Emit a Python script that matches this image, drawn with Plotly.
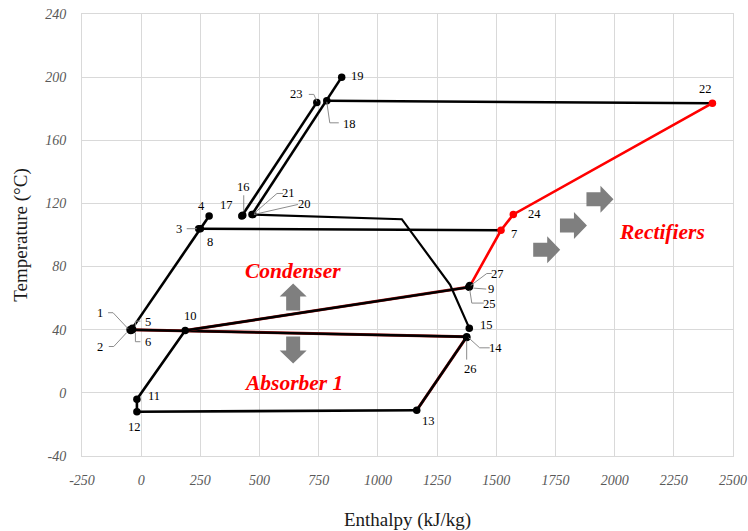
import plotly.graph_objects as go

# ---------------- data ----------------
labels = [str(i) for i in range(1, 28)]
enthalpy = [-47, -44, 243, 287, -37, -37, 1520, 250, 1386, 186, -18, -18, 1164, 1375,
            1386, 429, 425, 784, 847, 472, 468, 2413, 742, 1572, 1384, 1375, 1388]
temperature = [40, 39.5, 104, 112, 41, 40, 103, 104, 67, 39.5, -4, -12, -11, 35.5,
               41, 112.5, 112, 185, 200, 113, 113, 183.5, 184, 113, 67, 35, 68]
red_points = ["7", "22", "24"]

# intermediate (unlabelled) points of the 21 -> 15 path
bend_h = [1101, 1305]
bend_T = [110, 68.4]

black_paths = [["5", "8", "4"], ["17", "23"], ["21", "18", "19"], ["18", "22"],
               ["3", "7"], ["10", "11", "12", "13"]]
dark_paths = [["1", "14"], ["10", "9"], ["13", "14"]]
red_path = ["9", "7", "24", "22"]

x_ticks = [-250, 0, 250, 500, 750, 1000, 1250, 1500, 1750, 2000, 2250, 2500]
y_ticks = [-40, 0, 40, 80, 120, 160, 200, 240]

# label offsets (pixels, screen: +x right, +y down) and leader polylines
label_off = {
    "1": (-30, -17), "2": (-31, 16), "3": (-20, 0), "4": (-8, -10), "5": (16, -6),
    "6": (16, 12), "7": (13, 4), "8": (10, 13), "9": (22, 2), "10": (5, -15),
    "11": (17, -3), "12": (-2, 15), "13": (12, 11), "14": (29, 11), "15": (17, -3),
    "16": (1, -28), "17": (-15, -11), "18": (23, 23), "19": (16, -1), "20": (52, -10),
    "21": (37, -21), "22": (-7, -14), "23": (-20, -8), "24": (21, 0), "25": (21, 17),
    "26": (4, 31), "27": (28, -12),
}
leaders = {
    "1": [(-22, -17), (-17, -17), (-2, -1)],
    "2": [(-22, 16), (-17, 16), (-4, 2)],
    "3": [(-12, 0), (-2, 0)],
    "5": [(8, -7), (3, -7), (3, -1)],
    "6": [(3, 3), (3, 12), (8, 12)],
    "16": [(1, -20), (1, -4)],
    "21": [(31, -21), (25, -21), (2, -1)],
    "20": [(45, -10), (1, 0)],
    "23": [(-8, -8), (-3, -8), (0, -1)],
    "18": [(12, 22), (3, 22), (0, 1)],
    "27": [(22, -12), (17, -12), (1, 0)],
    "9": [(17, 2), (4, 1)],
    "25": [(15, 16), (3, 16), (1, 3)],
    "14": [(23, 11), (13, 11), (2, 1)],
    "26": [(0, 22), (0, 3)],
}

process_text = ["Condenser", "Absorber 1", "Rectifiers"]
process_h = [642, 642, 2200]
process_T = [77.5, 6.5, 102]

arrow_dir = ["up", "down", "right", "right", "right"]
arrow_h = [642, 642, 1713, 1826, 1938]
arrow_T = [60.8, 27.2, 90.6, 106, 122.7]

# ---------------- figure ----------------
idx = {l: i for i, l in enumerate(labels)}


def coords(path):
    return [enthalpy[idx[p]] for p in path], [temperature[idx[p]] for p in path]


fig = go.Figure()
BLACK = "#000000"
RED = "#ff0000"
LW = 2.6

for p in dark_paths:
    xs, ys = coords(p)
    fig.add_trace(go.Scatter(x=xs, y=ys, mode="lines", line=dict(color="#a01010", width=3.0),
                             hoverinfo="skip", showlegend=False))
    fig.add_trace(go.Scatter(x=xs, y=ys, mode="lines", line=dict(color=BLACK, width=2.4),
                             hoverinfo="skip", showlegend=False))

for p in black_paths:
    xs, ys = coords(p)
    fig.add_trace(go.Scatter(x=xs, y=ys, mode="lines", line=dict(color=BLACK, width=LW),
                             hoverinfo="skip", showlegend=False))

# 21 -> bends -> 15
xs = [enthalpy[idx["21"]]] + bend_h + [enthalpy[idx["15"]]]
ys = [temperature[idx["21"]]] + bend_T + [temperature[idx["15"]]]
fig.add_trace(go.Scatter(x=xs, y=ys, mode="lines", line=dict(color=BLACK, width=2.2),
                         hoverinfo="skip", showlegend=False))

xs, ys = coords(red_path)
fig.add_trace(go.Scatter(x=xs, y=ys, mode="lines", line=dict(color=RED, width=LW),
                         hoverinfo="skip", showlegend=False))

# markers
mcolors = [RED if l in red_points else BLACK for l in labels]
fig.add_trace(go.Scatter(x=enthalpy, y=temperature, mode="markers",
                         marker=dict(color=mcolors, size=7.5, line=dict(width=0)),
                         text=labels, showlegend=False))

LABEL_FONT = dict(family="Liberation Serif, serif", size=12.5, color="#000000")
for l in labels:
    dx, dy = label_off[l]
    fig.add_annotation(x=enthalpy[idx[l]], y=temperature[idx[l]], text=l, showarrow=False,
                       xshift=dx, yshift=-dy, font=LABEL_FONT)

for l, pts in leaders.items():
    path = "M " + " L ".join(f"{px},{-py}" for px, py in pts)
    fig.add_shape(type="path", xref="x", yref="y", xsizemode="pixel", ysizemode="pixel",
                  xanchor=enthalpy[idx[l]], yanchor=temperature[idx[l]], path=path,
                  line=dict(color="#8c8c8c", width=1))

for t, hx, ty in zip(process_text, process_h, process_T):
    fig.add_annotation(x=hx, y=ty, text=f"<b><i>{t}</i></b>", showarrow=False,
                       font=dict(family="Liberation Serif, serif", size=21.5, color=RED))

# block arrows (pixel-sized, anchored at data positions)
L, HL, HW, SW = 27, 13, 13.5, 7  # length, head length, half head width, half shaft width


def arrow_path(d):
    # defined pointing right, centred on origin
    pts = [(-L / 2, -SW), (L / 2 - HL, -SW), (L / 2 - HL, -HW), (L / 2, 0),
           (L / 2 - HL, HW), (L / 2 - HL, SW), (-L / 2, SW)]
    if d == "up":
        pts = [(-y, x) for x, y in pts]
    elif d == "down":
        pts = [(y, -x) for x, y in pts]
    return "M " + " L ".join(f"{x:.1f},{y:.1f}" for x, y in pts) + " Z"


for d, hx, ty in zip(arrow_dir, arrow_h, arrow_T):
    fig.add_shape(type="path", xref="x", yref="y", xsizemode="pixel", ysizemode="pixel",
                  xanchor=hx, yanchor=ty, path=arrow_path(d),
                  fillcolor="#7f7f7f", line=dict(width=0))

TICK_FONT = dict(family="Liberation Serif, serif", size=14, color="#595959")
TITLE_FONT = dict(family="Liberation Serif, serif", size=19, color="#1a1a1a")
GRID = "#d9d9d9"

fig.update_xaxes(range=[-250, 2500], tickvals=x_ticks, ticktext=[f"<i>{v}</i>" for v in x_ticks],
                 showgrid=True, gridcolor=GRID, gridwidth=1, zeroline=False,
                 showline=True, linecolor=GRID, linewidth=1, mirror=True,
                 ticks="", ticklabelstandoff=11, tickfont=TICK_FONT,
                 title=dict(text="Enthalpy (kJ/kg)", font=TITLE_FONT, standoff=28))
fig.update_yaxes(range=[-40, 240], tickvals=y_ticks, ticktext=[f"<i>{v}</i>" for v in y_ticks],
                 showgrid=True, gridcolor=GRID, gridwidth=1, zeroline=False,
                 showline=True, linecolor=GRID, linewidth=1, mirror=True,
                 ticks="", ticklabelstandoff=12, tickfont=TICK_FONT,
                 title=dict(text="Temperature (°C)", font=TITLE_FONT, standoff=12))

fig.update_layout(width=748, height=531, margin=dict(l=82, r=15, t=14, b=75, autoexpand=False),
                  paper_bgcolor="white", plot_bgcolor="white", showlegend=False)

fig.write_html("out.html")
